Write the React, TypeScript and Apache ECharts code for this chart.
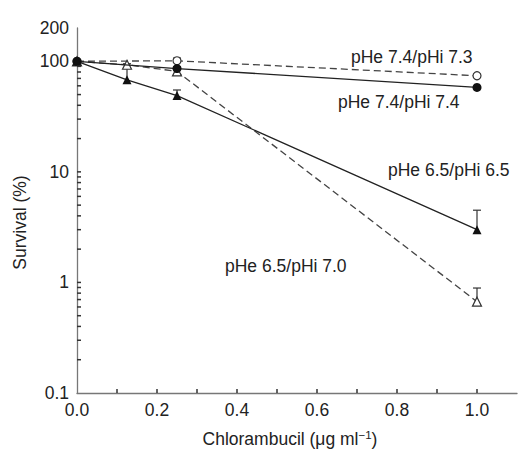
import React, { useEffect, useRef } from "react";
import * as echarts from "echarts";

// pHe 7.4 / pHi 7.4 (filled circles, solid)
const doseA = [0, 0.25, 1.0];
const survA = [100, 86, 58];
// pHe 7.4 / pHi 7.3 (open circles, dashed)
const doseB = [0, 0.25, 1.0];
const survB = [100, 101, 74];
const errTopB = [null, 107, null];
// pHe 6.5 / pHi 6.5 (filled triangles, solid)
const doseC = [0, 0.125, 0.25, 1.0];
const survC = [100, 68, 49, 3.0];
const errTopC = [null, 95, 55, 4.5];
// pHe 6.5 / pHi 7.0 (open triangles, dashed)
const doseD = [0, 0.125, 0.25, 1.0];
const survD = [100, 93, 81, 0.67];
const errTopD = [null, null, 89, 0.89];

const xLabelValues = [0, 0.2, 0.4, 0.6, 0.8, 1.0];
const xTickValues = [0.1, 0.2, 0.3, 0.4, 0.5, 0.6, 0.7, 0.8, 0.9, 1.0];
const yTickValues = [
  0.2, 0.3, 0.4, 0.5, 0.6, 0.7, 0.8, 0.9, 1,
  2, 3, 4, 5, 6, 7, 8, 9, 10,
  20, 30, 40, 50, 60, 70, 80, 90,
];

const FONT = "'Liberation Sans', Arial, Helvetica, sans-serif";
const INK = "#222";
const FS = 17.5;

function pairs(xs: number[], ys: number[]) {
  return xs.map((x, i) => [x, ys[i]]);
}
function errPairs(xs: number[], ys: number[], tops: (number | null)[]) {
  const out: number[][] = [];
  xs.forEach((x, i) => {
    const t = tops[i];
    if (t != null) out.push([x, ys[i], t]);
  });
  return out;
}

const errRender = (params: any, api: any) => {
  const x = api.value(0);
  const y = api.value(1);
  const top = api.value(2);
  const p = api.coord([x, y]);
  const t = api.coord([x, top]);
  const st = { stroke: "#333", lineWidth: 1.2 };
  return {
    type: "group",
    children: [
      { type: "line", shape: { x1: p[0], y1: p[1], x2: t[0], y2: t[1] }, style: st },
      { type: "line", shape: { x1: t[0] - 4, y1: t[1], x2: t[0] + 4, y2: t[1] }, style: st },
    ],
  };
};

// tick marks drawn at axis values through the axis scales
const yTickRender = (params: any, api: any) => {
  const p = api.coord([0, api.value(0)]);
  return { type: "rect", shape: { x: p[0], y: p[1] - 0.75, width: 4, height: 1.5 }, style: { fill: "#333" } };
};
const xTickRender = (params: any, api: any) => {
  const p = api.coord([api.value(0), 0.1]);
  return { type: "rect", shape: { x: p[0] - 0.75, y: p[1] - 4, width: 1.5, height: 4 }, style: { fill: "#333" } };
};

export default function App() {
  const ref = useRef<HTMLDivElement>(null);
  useEffect(() => {
    if (!ref.current) return;
    const chart = echarts.init(ref.current, undefined, { renderer: "svg" });
    const labelStyle = { fontFamily: FONT, fontSize: FS, color: INK };
    const option: any = {
      animation: false,
      backgroundColor: "#fff",
      grid: { left: 77, right: 5, top: 28, bottom: 62 },
      xAxis: [
        {
          type: "value",
          min: 0,
          max: 1.1,
          interval: 0.2,
          splitLine: { show: false },
          axisLine: { lineStyle: { color: "#777", width: 1.3 } },
          axisTick: { show: false },
          axisLabel: {
            ...labelStyle,
            margin: 8,
            customValues: xLabelValues,
            formatter: (v: number) => v.toFixed(1),
          },
          name: "Chlorambucil (μg ml{sup|−1})",
          nameLocation: "middle",
          nameGap: 36,
          nameTextStyle: {
            ...labelStyle,
            padding: [0, 14, 0, 0],
            rich: { sup: { fontFamily: FONT, fontSize: 11.5, color: INK, verticalAlign: "top", padding: [0, 0, 8, 0] } },
          },
        },
      ],
      yAxis: [
        {
          type: "log",
          logBase: 10,
          min: 0.1,
          max: 200,
          splitLine: { show: false },
          axisLine: { lineStyle: { color: "#777", width: 1.3 } },
          axisTick: { show: false },
          axisLabel: { ...labelStyle, margin: 8 },
          name: "Survival (%)",
          nameLocation: "middle",
          nameGap: 46,
          nameTextStyle: { ...labelStyle, padding: [0, 24, 0, 0] },
        },
      ],
      series: [
        {
          type: "custom",
          renderItem: yTickRender,
          data: yTickValues.map((v) => [v]),
          encode: { y: 0 },
          dimensions: ["v"],
          z: 5,
          silent: true,
          clip: false,
        },
        {
          type: "custom",
          renderItem: xTickRender,
          data: xTickValues.map((v) => [v]),
          encode: { x: 0 },
          dimensions: ["v"],
          z: 5,
          silent: true,
          clip: false,
        },
        {
          type: "custom",
          renderItem: errRender,
          data: errPairs(doseB, survB, errTopB),
          z: 1,
          silent: true,
        },
        {
          type: "custom",
          renderItem: errRender,
          data: errPairs(doseC, survC, errTopC),
          z: 1,
          silent: true,
        },
        {
          type: "custom",
          renderItem: errRender,
          data: errPairs(doseD, survD, errTopD),
          z: 1,
          silent: true,
        },
        {
          name: "pHe 7.4/pHi 7.3",
          type: "line",
          data: pairs(doseB, survB),
          symbol: "circle",
          symbolSize: 8,
          lineStyle: { color: "#444", width: 1.3, type: [7, 4] },
          itemStyle: { color: "#fff", borderColor: "#333", borderWidth: 1.2 },
          z: 2,
        },
        {
          name: "pHe 7.4/pHi 7.4",
          type: "line",
          data: pairs(doseA, survA),
          symbol: "circle",
          symbolSize: 9,
          lineStyle: { color: "#222", width: 1.3 },
          itemStyle: { color: "#111" },
          z: 3,
        },
        {
          name: "pHe 6.5/pHi 7.0",
          type: "line",
          data: pairs(doseD, survD),
          symbol: "triangle",
          symbolSize: 9,
          lineStyle: { color: "#444", width: 1.3, type: [7, 4] },
          itemStyle: { color: "#fff", borderColor: "#333", borderWidth: 1.2 },
          z: 2,
        },
        {
          name: "pHe 6.5/pHi 6.5",
          type: "line",
          data: pairs(doseC, survC),
          symbol: "triangle",
          symbolSize: 9,
          lineStyle: { color: "#222", width: 1.3 },
          itemStyle: { color: "#111" },
          z: 3,
        },
      ],
      graphic: [
        { type: "text", left: 351, top: 48, style: { text: "pHe 7.4/pHi 7.3", font: `${FS}px ${FONT}`, fill: INK } },
        { type: "text", left: 338, top: 93, style: { text: "pHe 7.4/pHi 7.4", font: `${FS}px ${FONT}`, fill: INK } },
        { type: "text", left: 388, top: 161, style: { text: "pHe 6.5/pHi 6.5", font: `${FS}px ${FONT}`, fill: INK } },
        { type: "text", left: 225, top: 257, style: { text: "pHe 6.5/pHi 7.0", font: `${FS}px ${FONT}`, fill: INK } },
      ],
    };
    chart.setOption(option);
    return () => chart.dispose();
  }, []);
  return (
    <div
      ref={ref}
      style={{ position: "absolute", left: 0, top: 0, width: 522, height: 455, background: "#fff" }}
    />
  );
}
